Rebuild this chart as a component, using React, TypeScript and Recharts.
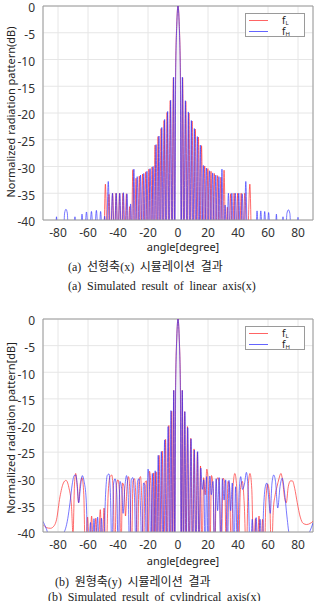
import React from 'react';
import { LineChart, Line, XAxis, YAxis, CartesianGrid, ReferenceLine } from 'recharts';

type P = [number, number];

const angleTicks = [-80, -60, -40, -20, 0, 20, 40, 60, 80];
const dbTicks = [-40, -35, -30, -25, -20, -15, -10, -5, 0];

// (a) linear axis – f_L
const linearFL: P[] = [
  [-90, -45], [-49.6, -45], [-48.4, -33.3], [-47.2, -45],
  [-46.0, -35.2], [-44.8, -45], [-43.6, -35.0], [-42.4, -45],
  [-41.3, -35.0], [-40.1, -45], [-39.0, -35.0], [-37.8, -45],
  [-36.7, -35.0], [-35.5, -45], [-34.4, -35.1], [-33.3, -45],
  [-32.2, -37.5], [-31.1, -45], [-30.1, -30.6], [-29.0, -45],
  [-28.0, -32.2], [-26.9, -45], [-25.8, -31.8], [-24.7, -45],
  [-23.6, -31.4], [-22.5, -45], [-21.5, -31.0], [-20.4, -45],
  [-19.4, -30.5], [-18.3, -45], [-17.3, -30.1], [-16.3, -45],
  [-15.3, -26.0], [-14.3, -45], [-13.3, -24.4], [-12.3, -45],
  [-11.3, -22.9], [-10.3, -45], [-9.3, -21.4], [-8.3, -45],
  [-7.3, -19.9], [-6.2, -45], [-5.2, -17.7], [-4.1, -45],
  [-3.1, -13.4], [-2.3, -45], [-1.6, -12.5], [-0.9, -3.8], [0, 0],
  [0.9, -3.8], [1.6, -12.5], [2.3, -45], [3.1, -13.4],
  [4.1, -45], [5.2, -17.8], [6.2, -45], [7.3, -20.0],
  [8.3, -45], [9.4, -21.5], [10.4, -45], [11.5, -23.0],
  [12.5, -45], [13.6, -24.5], [14.6, -45], [15.7, -26.1],
  [16.7, -45], [17.8, -29.9], [18.8, -45], [19.9, -30.4],
  [21.0, -45], [22.0, -30.9], [23.1, -45], [24.2, -31.3],
  [25.3, -45], [26.4, -31.7], [27.5, -45], [28.6, -32.0],
  [29.6, -45], [30.7, -30.7], [31.8, -45], [32.9, -37.6],
  [34.0, -45], [35.1, -35.1], [36.3, -45], [37.4, -35.0],
  [38.6, -45], [39.8, -35.0], [41.0, -45], [42.1, -35.0],
  [43.3, -45], [44.5, -35.0], [46.2, -45], [47.9, -33.3],
  [49.2, -45], [90, -45],
];

// (a) linear axis – f_H
const linearFH: P[] = [
  [-90, -45], [-82, -45], [-81, -39.4], [-80, -45],
  [-76.6, -45], [-75.6, -38.7], [-74.7, -38.0], [-73.8, -38.7], [-72.8, -45],
  [-69.6, -45], [-68.7, -39.4], [-67.8, -45],
  [-65.1, -45], [-64.0, -38.9], [-62.7, -45],
  [-61.0, -38.5], [-59.4, -45], [-57.7, -38.4], [-56.1, -45],
  [-54.4, -38.2], [-52.9, -45], [-51.6, -38.4], [-50.2, -45],
  [-48.9, -39.3], [-47.8, -45], [-46.5, -32.8], [-45.1, -45],
  [-43.7, -35.0], [-42.5, -45], [-41.2, -35.0], [-40.0, -45],
  [-38.8, -35.0], [-37.6, -45], [-36.4, -34.9], [-35.2, -45],
  [-34.0, -35.1], [-32.8, -45], [-31.6, -37.0], [-30.5, -45],
  [-29.4, -30.5], [-28.3, -45], [-27.2, -31.9], [-26.1, -45],
  [-25.0, -31.6], [-23.9, -45], [-22.8, -31.3], [-21.8, -45],
  [-20.7, -30.9], [-19.7, -45], [-18.6, -30.4], [-17.6, -45],
  [-16.6, -30.0], [-15.6, -45], [-14.6, -25.9], [-13.6, -45],
  [-12.7, -24.3], [-11.7, -45], [-10.8, -22.7], [-9.8, -45],
  [-8.9, -21.2], [-7.9, -45], [-6.9, -19.7], [-5.9, -45],
  [-4.9, -17.6], [-3.9, -45], [-2.9, -13.3], [-2.1, -45],
  [-1.5, -12.0], [-0.8, -3.5], [0, 0], [0.8, -3.5], [1.5, -12.0],
  [2.1, -45], [2.9, -13.3], [3.9, -45], [4.9, -17.7],
  [5.9, -45], [6.9, -19.8], [7.9, -45], [8.9, -21.4],
  [9.9, -45], [10.9, -22.9], [11.9, -45], [12.9, -24.4],
  [13.9, -45], [14.9, -26.0], [15.9, -45], [16.9, -29.8],
  [17.9, -45], [18.9, -30.3], [20.0, -45], [21.0, -30.8],
  [22.1, -45], [23.1, -31.2], [24.2, -45], [25.2, -31.6],
  [26.3, -45], [27.3, -31.9], [28.3, -45], [29.3, -30.5],
  [30.4, -45], [31.4, -37.2], [32.5, -45], [33.6, -35.0],
  [34.8, -45], [35.9, -35.0], [37.1, -45], [38.2, -35.0],
  [39.4, -45], [40.5, -35.0], [41.7, -45], [42.8, -35.1],
  [44.0, -45], [45.2, -32.8], [46.4, -45],
  [51.6, -45], [52.7, -38.3], [53.9, -45], [55.2, -38.3],
  [56.5, -45], [57.8, -38.4], [59.1, -45], [60.4, -38.6], [61.8, -45],
  [64.6, -45], [65.6, -38.9], [66.6, -45],
  [69.1, -45], [70.0, -39.4], [70.9, -45],
  [71.6, -45], [72.6, -38.8], [73.6, -38.1], [74.6, -38.8], [75.6, -45],
  [79.1, -45], [80.0, -39.5], [80.9, -45], [90, -45],
];

// (b) cylindrical axis – f_L
const cylFL: P[] = [
  [-90, -38.6], [-87.5, -39.2], [-85, -39.3], [-82.5, -38.8], [-81, -37.7],
  [-78.7, -33.4], [-76.4, -30.8], [-74.7, -30.3], [-72.8, -31.6], [-71, -35.2],
  [-70.0, -40.5], [-69.0, -31], [-68.2, -29.0], [-67.2, -31.5], [-66.3, -34.5],
  [-65.2, -31.0], [-64.0, -29.8], [-62.8, -33], [-61.8, -45], [-60.3, -37.2],
  [-59.0, -45], [-57.6, -37.0], [-56.2, -45], [-54.8, -37.4], [-53.4, -45],
  [-51.8, -35.8], [-50.6, -45], [-49.3, -35.5], [-48.0, -45], [-46.5, -32.5],
  [-45.3, -29.6], [-44.2, -29.3], [-43.2, -32], [-42.2, -45], [-41.0, -31],
  [-40.0, -30.2], [-39.0, -32.5], [-38.0, -45], [-37.0, -30.8], [-36.0, -31.5],
  [-35.0, -37], [-34.0, -31.5], [-33.0, -29.6], [-32.0, -33], [-31.0, -45],
  [-30.0, -30.4], [-29.0, -30.0], [-28.0, -34], [-27.0, -45], [-26.0, -30.3],
  [-25.0, -29.6], [-24.0, -35], [-23.0, -45], [-22.0, -30.6], [-21.0, -30.4],
  [-20.0, -45], [-19.0, -28.6], [-18.0, -31.6], [-17.1, -45], [-16.2, -28.9],
  [-15.4, -45], [-14.6, -28.7], [-13.6, -45], [-12.6, -25.6], [-11.6, -45],
  [-10.5, -24.8], [-9.4, -45], [-8.3, -22.6], [-7.2, -45], [-6.1, -20.0],
  [-5.0, -45], [-4.2, -17.3], [-3.5, -45], [-2.9, -13.4], [-2.2, -45],
  [-1.6, -12.4], [-0.85, -3.6], [0, 0], [0.85, -3.6], [1.6, -12.4],
  [2.2, -45], [2.9, -13.4], [3.6, -45], [4.4, -17.4], [5.3, -45],
  [6.3, -20.2], [7.4, -45], [8.5, -22.4], [9.6, -45], [10.7, -24.4],
  [11.8, -45], [12.9, -25.0], [14.0, -45], [15.0, -27.6], [16.0, -45],
  [17.1, -29.8], [18.1, -33], [19.2, -28.2], [20.2, -31], [21.3, -45],
  [22.3, -29.4], [23.4, -31.5], [24.5, -45], [25.6, -30.4], [26.7, -29.8],
  [27.8, -34], [28.9, -45], [30.0, -29.9], [31.1, -30.6], [32.2, -45],
  [33.3, -30.5], [34.4, -31.5], [35.5, -45], [36.7, -31.5], [37.9, -29.0],
  [39.1, -31.5], [40.3, -45], [41.6, -32], [42.9, -30.5], [44.2, -35],
  [45.5, -45], [46.8, -31.5], [48.0, -29.0], [49.2, -32], [50.4, -45],
  [51.6, -37.5], [52.8, -45], [54.0, -37.0], [55.2, -45], [56.4, -37.6],
  [57.6, -45], [58.6, -34], [59.8, -31.0], [61.0, -33], [62.3, -45],
  [63.5, -36], [64.8, -33], [66.0, -31.5], [67.3, -30.0], [68.6, -29.0],
  [69.8, -30.5], [71.0, -33.5], [72.2, -34.5], [73.5, -31.5], [75.0, -30.4],
  [76.3, -30.4], [77.8, -31.8], [79.5, -34.5], [81.5, -37.2], [83.5, -38.4],
  [85.8, -38.6], [88, -38.4], [90, -38.0],
];

// (b) cylindrical axis – f_H
const cylFH: P[] = [
  [-90, -38.0], [-89, -38.6], [-87.5, -39.6], [-86, -41], [-80, -42],
  [-77, -40.5], [-75, -39.4], [-73.5, -37.5], [-72, -34.5], [-70.5, -31],
  [-69.2, -29.4], [-68.2, -29.3], [-67.2, -31], [-66.2, -34.5], [-65.0, -31.5],
  [-63.8, -29.4], [-62.6, -30.5], [-61.2, -34], [-59.8, -45], [-58.3, -38.2],
  [-57.2, -45], [-56.0, -37.5], [-54.8, -45], [-53.6, -37.2], [-52.3, -45],
  [-51.0, -37.4], [-49.8, -45], [-48.3, -33], [-47.2, -29.4], [-46.0, -29.1],
  [-45.0, -33.5], [-44.0, -45], [-43.0, -31.0], [-41.9, -30.0], [-40.8, -33],
  [-39.8, -45], [-38.7, -30.5], [-37.6, -31.8], [-36.6, -36.5], [-35.5, -31.8],
  [-34.3, -29.4], [-33.2, -33], [-32.2, -45], [-31.2, -30.2], [-30.1, -29.8],
  [-29.0, -33.5], [-28.0, -45], [-27.0, -30.5], [-26.0, -30.0], [-25.0, -35.5],
  [-24.0, -45], [-23.0, -30.8], [-22.0, -31.2], [-21.0, -45], [-20.0, -28.2],
  [-19.0, -31.5], [-18.1, -45], [-17.1, -29.0], [-16.2, -45], [-15.2, -28.5],
  [-14.2, -45], [-13.2, -25.6], [-12.2, -45], [-11.1, -24.9], [-10.0, -45],
  [-8.9, -22.7], [-7.8, -45], [-6.6, -20.2], [-5.6, -45], [-4.7, -17.2],
  [-3.8, -45], [-2.8, -13.4], [-2.1, -45], [-1.5, -12.0], [-0.8, -3.5],
  [0, 0], [0.8, -3.5], [1.5, -12.0], [2.1, -45], [2.8, -13.4],
  [3.7, -45], [4.6, -17.4], [5.5, -45], [6.5, -20.4], [7.6, -45],
  [8.7, -22.5], [9.8, -45], [10.9, -24.6], [12.0, -45], [13.1, -24.9],
  [14.1, -45], [15.2, -28.0], [16.2, -32], [17.2, -30.2], [18.1, -45],
  [19.1, -29.6], [20.1, -45], [21.2, -29.5], [22.2, -33], [23.3, -30.5],
  [24.3, -45], [25.4, -30.0], [26.4, -36], [27.5, -29.8], [28.5, -45],
  [29.6, -30.0], [30.7, -34], [31.8, -30.2], [32.9, -45], [34.0, -30.3],
  [35.1, -36], [36.2, -30.8], [37.3, -45], [38.4, -31.5], [39.6, -45],
  [40.7, -33], [41.8, -29.6], [43.0, -32], [44.3, -31], [45.6, -28.8],
  [46.9, -33], [48.2, -45], [49.5, -37.6], [50.8, -45], [52.1, -37.3],
  [53.4, -45], [54.7, -37.6], [56.0, -45], [57.0, -36], [58.2, -31.5],
  [59.2, -30.8], [60.3, -33], [61.5, -36.5], [62.6, -31], [63.8, -29.3],
  [65.0, -30.5], [66.5, -35.5], [68.0, -31.5], [69.5, -29.9], [71.0, -32.5],
  [72.6, -37], [74.5, -41], [77, -42], [82, -41], [86, -40.8],
  [88, -39.8], [90, -38.3],
];

const toRows = (pts: P[]) => pts.map(([angle, db]) => ({ angle, db }));

const RED = '#ff3030';
const BLUE = '#3030ff';
const FRAME = '#9a9a9a';
const SANS = '"Noto Sans", "DejaVu Sans", sans-serif';
const SERIF = '"Liberation Serif", "Times New Roman", "Noto Sans CJK KR", serif';

function LegendBox() {
  const row = (color: string, sub: string, top: number) => (
    <div style={{ position: 'absolute', left: 0, top, width: 58, height: 11 }}>
      <div style={{ position: 'absolute', left: 3, top: 6, width: 19, height: 1, background: color, opacity: 0.75 }} />
      <div style={{ position: 'absolute', left: 36, top: 0, fontFamily: SANS, fontSize: 10, lineHeight: '12px', color: '#222', whiteSpace: 'nowrap' }}>
        f<sub style={{ fontSize: 6, verticalAlign: 'baseline', position: 'relative', top: 1 }}>{sub}</sub>
      </div>
    </div>
  );
  return (
    <div style={{ position: 'absolute', left: 245, width: 60, height: 24, top: 7, border: '1px solid #9a9a9a', background: '#fff', boxSizing: 'border-box' }}>
      {row(RED, 'L', 0)}
      {row(BLUE, 'H', 11)}
    </div>
  );
}

function Pattern({ fl, fh, top, marginTop, yLabel, labelCenter, xLabelTop }: {
  fl: P[]; fh: P[]; top: number; marginTop: number; yLabel: string; labelCenter: number; xLabelTop: number;
}) {
  return (
    <div style={{ position: 'absolute', left: 0, top, width: 319, height: 260 }}>
      <LineChart width={319} height={260} margin={{ top: marginTop, right: 6, bottom: 0, left: 0 }}>
        <CartesianGrid stroke="#e6e6e6" />
        <XAxis
          type="number"
          dataKey="angle"
          domain={[-90, 90]}
          ticks={angleTicks}
          interval={0}
          allowDataOverflow
          height={40}
          tickLine={false}
          axisLine={{ stroke: FRAME }}
          tick={{ fontSize: 12, fill: '#333', fontFamily: SANS }}
        />
        <YAxis
          type="number"
          domain={[-40, 0]}
          ticks={dbTicks}
          interval={0}
          allowDataOverflow
          width={43}
          tickLine={false}
          axisLine={{ stroke: FRAME }}
          tick={{ fontSize: 12, fill: '#333', fontFamily: SANS, dy: 2 }}
        />
        <ReferenceLine y={0} stroke={FRAME} />
        <ReferenceLine x={90} stroke={FRAME} />
        <Line data={toRows(fl)} dataKey="db" type="monotone" stroke={RED} strokeOpacity={0.7} strokeWidth={1} dot={false} activeDot={false} isAnimationActive={false} />
        <Line data={toRows(fh)} dataKey="db" type="monotone" stroke={BLUE} strokeOpacity={0.65} strokeWidth={1} dot={false} activeDot={false} isAnimationActive={false} />
      </LineChart>
      <div style={{ position: 'absolute', left: 10, top: labelCenter, transform: 'translate(-50%, -50%) rotate(-90deg)', whiteSpace: 'nowrap', fontFamily: SANS, fontSize: 11, color: '#222' }}>
        {yLabel}
      </div>
      <div style={{ position: 'absolute', left: 183, top: xLabelTop, transform: 'translateX(-50%)', whiteSpace: 'nowrap', fontFamily: SANS, fontSize: 11, color: '#222', lineHeight: '14px' }}>
        angle[degree]
      </div>
      <div style={{ position: 'absolute', left: 0, top: marginTop, width: 319 }}>
        <LegendBox />
      </div>
    </div>
  );
}

const capStyle: React.CSSProperties = {
  position: 'absolute', whiteSpace: 'nowrap', fontFamily: SERIF, fontSize: 12, lineHeight: '16px', color: '#222', wordSpacing: 2.7,
};

export default function App() {
  return (
    <div style={{ position: 'absolute', left: 0, top: 0, width: 319, height: 601, background: '#fff', overflow: 'hidden' }}>
      <Pattern fl={linearFL} fh={linearFH} top={0} marginTop={6} yLabel="Normalized radiation pattern(dB)" labelCenter={112} xLabelTop={240} />
      <div style={{ ...capStyle, left: 68, top: 259 }}>(a) 선형축(x) 시뮬레이션 결과</div>
      <div style={{ ...capStyle, left: 68, top: 278 }}>(a) Simulated result of linear axis(x)</div>
      <Pattern fl={cylFL} fh={cylFH} top={312} marginTop={7} yLabel="Normalized radiation pattern[dB]" labelCenter={116} xLabelTop={242} />
      <div style={{ ...capStyle, left: 55, top: 574 }}>(b) 원형축(y) 시뮬레이션 결과</div>
      <div style={{ ...capStyle, left: 48, top: 589 }}>(b) Simulated result of cylindrical axis(x)</div>
    </div>
  );
}
